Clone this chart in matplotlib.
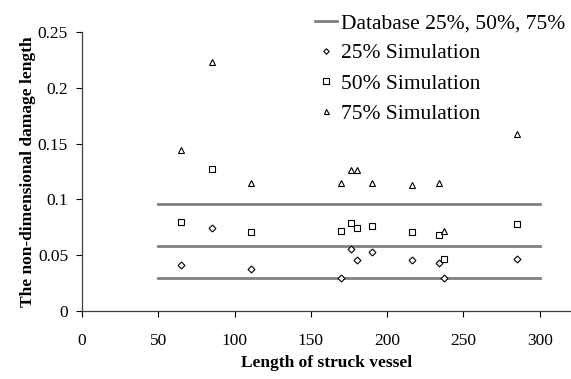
import numpy as np
import matplotlib
matplotlib.use('Agg')
import matplotlib.pyplot as plt

plt.rcParams['font.family'] = ['Liberation Serif', 'DejaVu Serif']

# vessel lengths and simulated non-dimensional damage lengths
length = [65, 85, 111, 170, 176, 180, 190, 216, 234, 237, 285]
sim_25 = [0.041, 0.074, 0.038, 0.030, 0.056, 0.046, 0.053, 0.046, 0.043, 0.030, 0.047]
sim_50 = [0.080, 0.127, 0.071, 0.072, 0.079, 0.074, 0.076, 0.071, 0.068, 0.047, 0.078]
sim_75 = [0.144, 0.223, 0.115, 0.115, 0.126, 0.126, 0.115, 0.113, 0.115, 0.072, 0.159]

# database percentiles, drawn over the vessel range
db_x = [50, 300]
db_levels = [0.030, 0.058, 0.096]

fig = plt.figure(figsize=(5.71, 3.79), dpi=100)
ax = fig.add_axes([0.1436, 0.1794, 0.855, 0.7362])

for i, lev in enumerate(db_levels):
    ax.plot(db_x, [lev, lev], color='#808080', linewidth=2,
            label='Database 25%, 50%, 75%' if i == 0 else None, zorder=1)

mk = dict(linestyle='none', markerfacecolor='white', markeredgecolor='black',
          markeredgewidth=0.8, zorder=3)
ax.plot(length, sim_25, marker='D', markersize=3.5, label='25% Simulation', **mk)
ax.plot(length, sim_50, marker='s', markersize=4.8, label='50% Simulation', **mk)
ax.plot(length, sim_75, marker='^', markersize=4.5, label='75% Simulation', **mk)

ax.set_xlim(0, 320)
ax.set_ylim(0, 0.25)
ax.set_xticks([0, 50, 100, 150, 200, 250, 300])
ax.set_xticklabels(['0', '50', '100', '150', '200', '250', '300'])
ax.set_yticks([0, 0.05, 0.1, 0.15, 0.2, 0.25])
ax.set_yticklabels(['0', '0.05', '0.1', '0.15', '0.2', '0.25'])
ax.tick_params(labelsize=12.5, length=4, width=0.8, colors='black', pad=6)
ax.tick_params(axis='x', pad=12)

for s in ['top', 'right']:
    ax.spines[s].set_visible(False)
for s in ['left', 'bottom']:
    ax.spines[s].set_color('#404040')
    ax.spines[s].set_linewidth(0.9)

ax.set_xlabel('Length of struck vessel', fontsize=12.5, fontweight='bold', labelpad=4)
ax.set_ylabel('The non-dimensional damage length', fontsize=12.5, fontweight='bold', labelpad=1)

ax.legend(loc='upper right', bbox_to_anchor=(1.012, 1.106), frameon=False, fontsize=15.5,
          handlelength=1.0, handletextpad=0.2, labelspacing=0.47, borderpad=0,
          markerscale=0.8)

fig.savefig('out.png', dpi=100)
